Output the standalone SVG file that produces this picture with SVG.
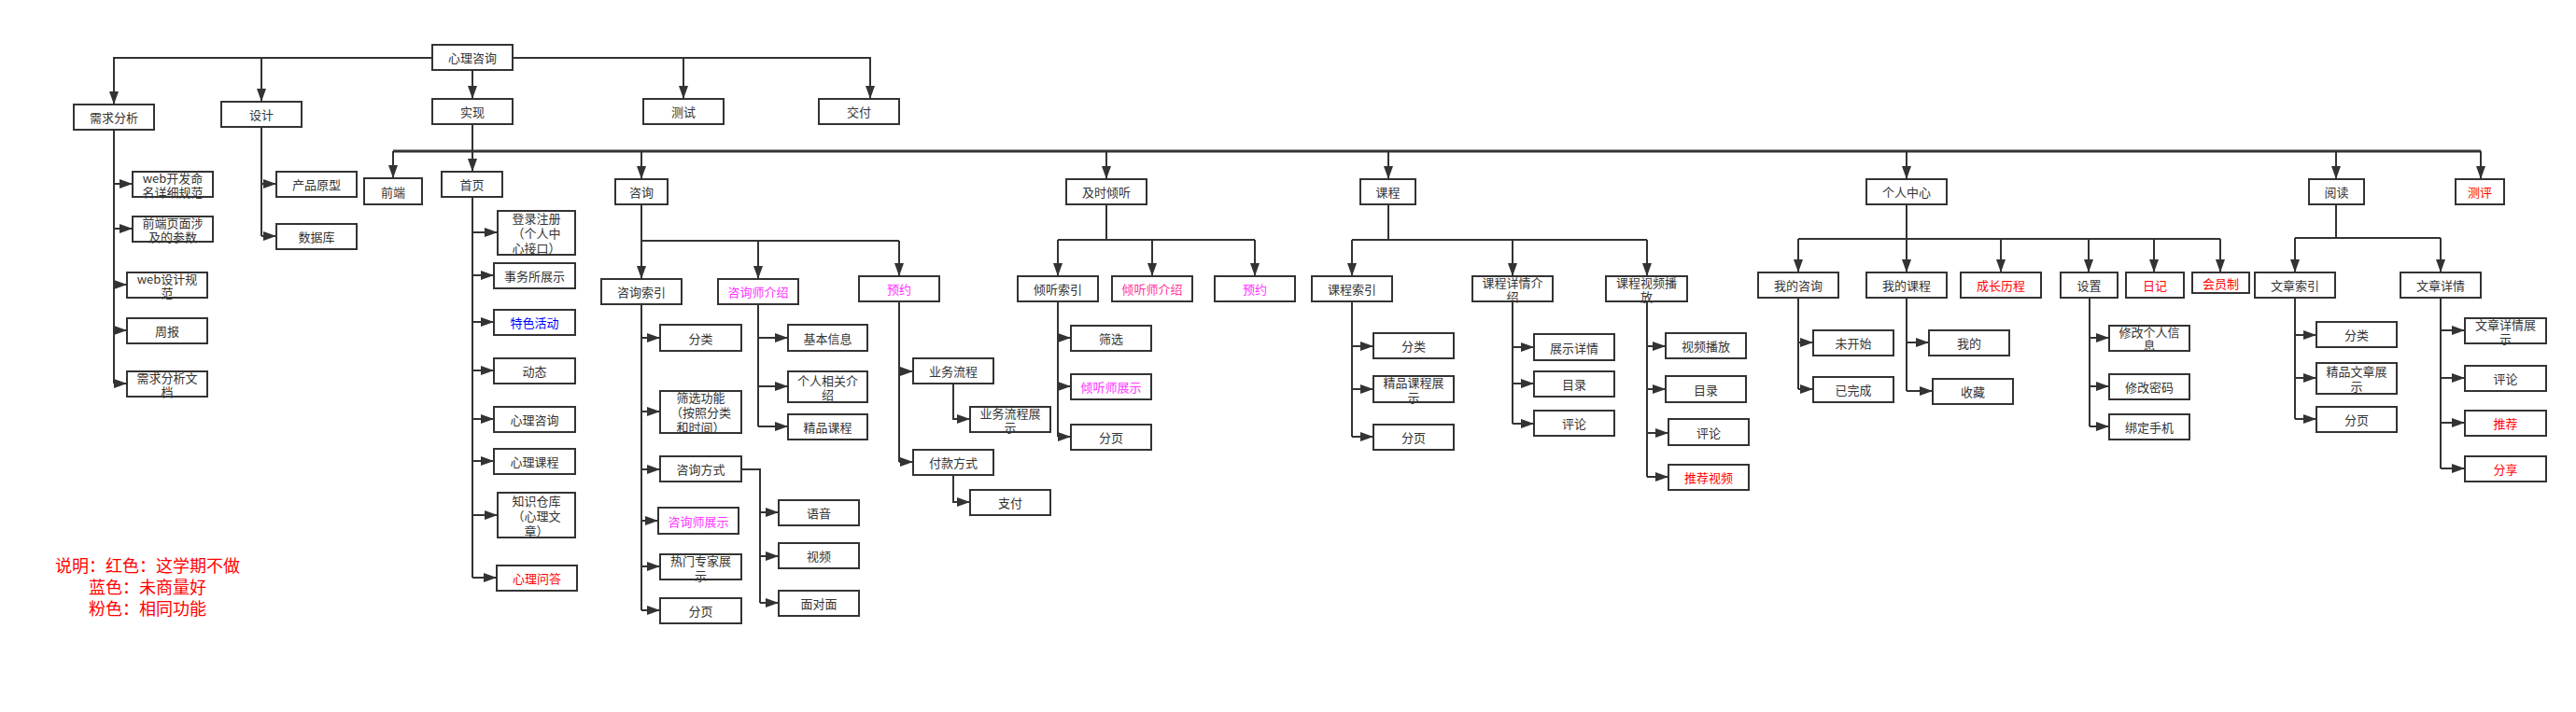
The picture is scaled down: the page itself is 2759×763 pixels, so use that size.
<svg xmlns="http://www.w3.org/2000/svg" width="2759" height="763" viewBox="0 0 2759 763">
<style>
rect{fill:#fff;stroke:#333;stroke-width:2}
text{font-family:"Noto Sans CJK SC","Liberation Sans",sans-serif;font-size:13px;fill:#333;text-anchor:middle;dominant-baseline:central}
.r{fill:#ff0000}.b{fill:#0000ff}.m{fill:#ff33ff}.p{fill:#ff3399}
#connectors path{fill:none;stroke:#333;stroke-width:2}
#connectors path.a{marker-end:url(#ah)}
#connectors path.bus{stroke-width:3}
.legend{font-size:18px;fill:#ff0000}
</style>
<defs>
<marker id="ah" markerUnits="userSpaceOnUse" markerWidth="14" markerHeight="10" refX="14" refY="5" orient="auto"><path d="M0,0 L14,5 L0,10 z" fill="#333"/></marker>
</defs>
<rect x="0" y="0" width="2759" height="763" style="fill:#fff;stroke:none"/>
<g id="connectors">
<path class="a" d="M463,62 H122 V112"/>
<path class="a" d="M280,62 V109"/>
<path class="a" d="M506,75 V106"/>
<path class="a" d="M549,62 H932 V106"/>
<path class="a" d="M732,62 V106"/>
<path d="M122,139 V411"/>
<path class="a" d="M122,197 H142"/><path class="a" d="M122,245 H142"/><path class="a" d="M122,305 H136"/><path class="a" d="M122,354 H136"/><path class="a" d="M122,411 H136"/>
<path d="M280,136 V253"/>
<path class="a" d="M280,197 H296"/><path class="a" d="M280,253 H296"/>
<path d="M506,133 V162"/>
<path class="bus" d="M421,162 H2657"/>
<path class="a" d="M421,162 V191"/><path class="a" d="M506,162 V184"/><path class="a" d="M687,162 V192"/><path class="a" d="M1185,162 V192"/><path class="a" d="M1487,162 V192"/><path class="a" d="M2042,162 V192"/><path class="a" d="M2502,162 V192"/><path class="a" d="M2657,162 V192"/>
<path d="M506,211 V619"/>
<path class="a" d="M506,249 H533"/><path class="a" d="M506,295 H529"/><path class="a" d="M506,345 H529"/><path class="a" d="M506,397 H529"/><path class="a" d="M506,449 H529"/><path class="a" d="M506,494 H529"/><path class="a" d="M506,552 H533"/><path class="a" d="M506,619 H532"/>
<path d="M687,219 V258 M687,258 H963"/>
<path class="a" d="M687,258 V299"/><path class="a" d="M812,258 V299"/><path class="a" d="M963,258 V296"/>
<path d="M687,326 V654"/>
<path class="a" d="M687,362 H707"/><path class="a" d="M687,441 H707"/><path class="a" d="M687,503 H707"/><path class="a" d="M687,558 H705"/><path class="a" d="M687,607 H707"/><path class="a" d="M687,654 H707"/>
<path d="M812,326 V457"/>
<path class="a" d="M812,362 H844"/><path class="a" d="M812,414 H844"/><path class="a" d="M812,457 H844"/>
<path d="M794,503 H814 V646"/>
<path class="a" d="M814,549 H834"/><path class="a" d="M814,596 H834"/><path class="a" d="M814,646 H834"/>
<path d="M963,323 V495"/>
<path class="a" d="M963,398 H978"/><path class="a" d="M963,495 H978"/>
<path class="a" d="M1021,411 V449 H1039"/>
<path class="a" d="M1021,509 V538 H1039"/>
<path d="M1185,219 V257 M1133,257 H1344"/>
<path class="a" d="M1133,257 V296"/><path class="a" d="M1234,257 V296"/><path class="a" d="M1344,257 V296"/>
<path d="M1133,323 V468"/>
<path class="a" d="M1133,362 H1147"/><path class="a" d="M1133,414 H1147"/><path class="a" d="M1133,468 H1147"/>
<path d="M1487,219 V257 M1448,257 H1764"/>
<path class="a" d="M1448,257 V296"/><path class="a" d="M1620,257 V296"/><path class="a" d="M1764,257 V296"/>
<path d="M1448,323 V468"/>
<path class="a" d="M1448,371 H1471"/><path class="a" d="M1448,417 H1471"/><path class="a" d="M1448,468 H1471"/>
<path d="M1620,323 V454"/>
<path class="a" d="M1620,372 H1643"/><path class="a" d="M1620,411 H1643"/><path class="a" d="M1620,454 H1643"/>
<path d="M1764,323 V511"/>
<path class="a" d="M1764,371 H1784"/><path class="a" d="M1764,417 H1784"/><path class="a" d="M1764,464 H1787"/><path class="a" d="M1764,511 H1787"/>
<path d="M2042,219 V256 M1926,256 H2378"/>
<path class="a" d="M1926,256 V292"/><path class="a" d="M2042,256 V292"/><path class="a" d="M2143,256 V292"/><path class="a" d="M2237,256 V292"/><path class="a" d="M2307,256 V292"/><path class="a" d="M2378,256 V292"/>
<path d="M1926,319 V417"/>
<path class="a" d="M1926,367 H1942"/><path class="a" d="M1926,417 H1942"/>
<path d="M2042,319 V419"/>
<path class="a" d="M2042,367 H2066"/><path class="a" d="M2042,419 H2070"/>
<path d="M2238,319 V457"/>
<path class="a" d="M2238,362 H2259"/><path class="a" d="M2238,414 H2259"/><path class="a" d="M2238,457 H2259"/>
<path d="M2502,219 V255 M2458,255 H2614"/>
<path class="a" d="M2458,255 V292"/><path class="a" d="M2614,255 V292"/>
<path d="M2458,319 V449"/>
<path class="a" d="M2458,359 H2481"/><path class="a" d="M2458,405 H2481"/><path class="a" d="M2458,449 H2481"/>
<path d="M2614,319 V502"/>
<path class="a" d="M2614,354 H2640"/><path class="a" d="M2614,405 H2640"/><path class="a" d="M2614,453 H2640"/><path class="a" d="M2614,502 H2640"/>
</g>
<g id="n-root"><rect x="463" y="48" width="86" height="27"/><text x="506" y="61.5">心理咨询</text></g>
<g id="n-xqfx"><rect x="79" y="112" width="86" height="27"/><text x="122" y="125.5">需求分析</text></g>
<g id="n-sj"><rect x="237" y="109" width="86" height="27"/><text x="280" y="122.5">设计</text></g>
<g id="n-sx"><rect x="463" y="106" width="86" height="27"/><text x="506" y="119.5">实现</text></g>
<g id="n-cs"><rect x="689" y="106" width="86" height="27"/><text x="732" y="119.5">测试</text></g>
<g id="n-jf"><rect x="877" y="106" width="86" height="27"/><text x="920" y="119.5">交付</text></g>
<g id="n-web1"><rect x="142" y="184" width="86" height="27"/><text x="185"><tspan x="185" y="190">web开发命</tspan><tspan x="185" y="205">名详细规范</tspan></text></g>
<g id="n-qdym"><rect x="142" y="232" width="86" height="27"/><text x="185"><tspan x="185" y="238">前端页面涉</tspan><tspan x="185" y="253">及的参数</tspan></text></g>
<g id="n-web2"><rect x="136" y="292" width="86" height="27"/><text x="179"><tspan x="179" y="298">web设计规</tspan><tspan x="179" y="313">范</tspan></text></g>
<g id="n-zb"><rect x="136" y="341" width="86" height="27"/><text x="179" y="354.5">周报</text></g>
<g id="n-xqwd"><rect x="136" y="398" width="86" height="27"/><text x="179"><tspan x="179" y="404">需求分析文</tspan><tspan x="179" y="419">档</tspan></text></g>
<g id="n-cpyx"><rect x="296" y="184" width="86" height="27"/><text x="339" y="197.5">产品原型</text></g>
<g id="n-sjk"><rect x="296" y="240" width="86" height="27"/><text x="339" y="253.5">数据库</text></g>
<g id="n-qd"><rect x="390" y="191" width="62" height="28"/><text x="421" y="205">前端</text></g>
<g id="n-sy"><rect x="473" y="184" width="65" height="27"/><text x="505.5" y="197.5">首页</text></g>
<g id="n-dlzc"><rect x="533" y="226" width="83" height="47"/><text x="574.5"><tspan x="574.5" y="233">登录注册</tspan><tspan x="574.5" y="249">（个人中</tspan><tspan x="574.5" y="265">心接口）</tspan></text></g>
<g id="n-swszs"><rect x="529" y="282" width="87" height="27"/><text x="572.5" y="295.5">事务所展示</text></g>
<g id="n-tshd"><rect x="529" y="332" width="87" height="27"/><text class="b" x="572.5" y="345.5">特色活动</text></g>
<g id="n-dt"><rect x="529" y="384" width="87" height="27"/><text x="572.5" y="397.5">动态</text></g>
<g id="n-xlzx"><rect x="529" y="436" width="87" height="27"/><text x="572.5" y="449.5">心理咨询</text></g>
<g id="n-xlkc"><rect x="529" y="481" width="87" height="27"/><text x="572.5" y="494.5">心理课程</text></g>
<g id="n-zsck"><rect x="533" y="528" width="83" height="48"/><text x="574.5"><tspan x="574.5" y="536">知识仓库</tspan><tspan x="574.5" y="552">（心理文</tspan><tspan x="574.5" y="568">章）</tspan></text></g>
<g id="n-xlwd"><rect x="532" y="606" width="86" height="27"/><text class="r" x="575" y="619.5">心理问答</text></g>
<g id="n-zx"><rect x="659" y="192" width="56" height="27"/><text x="687" y="205.5">咨询</text></g>
<g id="n-zxsy"><rect x="644" y="299" width="86" height="27"/><text x="687" y="312.5">咨询索引</text></g>
<g id="n-zxsjs"><rect x="769" y="299" width="86" height="27"/><text class="m" x="812" y="312.5">咨询师介绍</text></g>
<g id="n-yy1"><rect x="920" y="296" width="86" height="27"/><text class="m" x="963" y="309.5">预约</text></g>
<g id="n-fl1"><rect x="707" y="348" width="87" height="28"/><text x="750.5" y="362">分类</text></g>
<g id="n-sxgn"><rect x="707" y="419" width="87" height="45"/><text x="750.5"><tspan x="750.5" y="425">筛选功能</tspan><tspan x="750.5" y="441">（按照分类</tspan><tspan x="750.5" y="457">和时间）</tspan></text></g>
<g id="n-zxfs"><rect x="707" y="489" width="87" height="27"/><text x="750.5" y="502.5">咨询方式</text></g>
<g id="n-zxszs"><rect x="705" y="544" width="86" height="28"/><text class="m" x="748" y="558">咨询师展示</text></g>
<g id="n-rmzj"><rect x="707" y="594" width="87" height="27"/><text x="750.5"><tspan x="750.5" y="600">热门专家展</tspan><tspan x="750.5" y="616">示</tspan></text></g>
<g id="n-fy1"><rect x="707" y="641" width="87" height="27"/><text x="750.5" y="654.5">分页</text></g>
<g id="n-jbxx"><rect x="844" y="348" width="85" height="28"/><text x="886.5" y="362">基本信息</text></g>
<g id="n-grxg"><rect x="844" y="398" width="85" height="33"/><text x="886.5"><tspan x="886.5" y="407">个人相关介</tspan><tspan x="886.5" y="422">绍</tspan></text></g>
<g id="n-jpkc"><rect x="844" y="444" width="85" height="27"/><text x="886.5" y="457.5">精品课程</text></g>
<g id="n-yy"><rect x="834" y="536" width="86" height="27"/><text x="877" y="549.5">语音</text></g>
<g id="n-sp"><rect x="834" y="582" width="86" height="27"/><text x="877" y="595.5">视频</text></g>
<g id="n-mdm"><rect x="834" y="633" width="86" height="27"/><text x="877" y="646.5">面对面</text></g>
<g id="n-ywlc"><rect x="978" y="384" width="86" height="27"/><text x="1021" y="397.5">业务流程</text></g>
<g id="n-ywlczs"><rect x="1039" y="436" width="86" height="27"/><text x="1082"><tspan x="1082" y="442">业务流程展</tspan><tspan x="1082" y="457">示</tspan></text></g>
<g id="n-fkfs"><rect x="978" y="482" width="86" height="27"/><text x="1021" y="495.5">付款方式</text></g>
<g id="n-zf"><rect x="1039" y="525" width="86" height="27"/><text x="1082" y="538.5">支付</text></g>
<g id="n-jsqt"><rect x="1142" y="192" width="86" height="27"/><text x="1185" y="205.5">及时倾听</text></g>
<g id="n-qtsy"><rect x="1090" y="296" width="86" height="27"/><text x="1133" y="309.5">倾听索引</text></g>
<g id="n-qtsjs"><rect x="1191" y="296" width="86" height="27"/><text class="p" x="1234" y="309.5">倾听师介绍</text></g>
<g id="n-yy2"><rect x="1301" y="296" width="86" height="27"/><text class="m" x="1344" y="309.5">预约</text></g>
<g id="n-sx2"><rect x="1147" y="349" width="86" height="27"/><text x="1190" y="362.5">筛选</text></g>
<g id="n-qtszs"><rect x="1147" y="401" width="86" height="27"/><text class="m" x="1190" y="414.5">倾听师展示</text></g>
<g id="n-fy2"><rect x="1147" y="455" width="86" height="27"/><text x="1190" y="468.5">分页</text></g>
<g id="n-kc"><rect x="1457" y="192" width="59" height="27"/><text x="1486.5" y="205.5">课程</text></g>
<g id="n-kcsy"><rect x="1405" y="296" width="86" height="27"/><text x="1448" y="309.5">课程索引</text></g>
<g id="n-kcxq"><rect x="1577" y="296" width="86" height="27"/><text x="1620"><tspan x="1620" y="302">课程详情介</tspan><tspan x="1620" y="317">绍</tspan></text></g>
<g id="n-kcsp"><rect x="1720" y="296" width="87" height="27"/><text x="1763.5"><tspan x="1763.5" y="302">课程视频播</tspan><tspan x="1763.5" y="317">放</tspan></text></g>
<g id="n-fl2"><rect x="1471" y="357" width="86" height="27"/><text x="1514" y="370.5">分类</text></g>
<g id="n-jpkczs"><rect x="1471" y="403" width="86" height="28"/><text x="1514"><tspan x="1514" y="409">精品课程展</tspan><tspan x="1514" y="425">示</tspan></text></g>
<g id="n-fy3"><rect x="1471" y="455" width="86" height="27"/><text x="1514" y="468.5">分页</text></g>
<g id="n-zsxq"><rect x="1643" y="358" width="86" height="28"/><text x="1686" y="372">展示详情</text></g>
<g id="n-ml1"><rect x="1643" y="398" width="86" height="27"/><text x="1686" y="411.5">目录</text></g>
<g id="n-pl1"><rect x="1643" y="440" width="86" height="27"/><text x="1686" y="453.5">评论</text></g>
<g id="n-spbf"><rect x="1784" y="357" width="86" height="27"/><text x="1827" y="370.5">视频播放</text></g>
<g id="n-ml2"><rect x="1784" y="403" width="86" height="28"/><text x="1827" y="417">目录</text></g>
<g id="n-pl2"><rect x="1787" y="449" width="86" height="28"/><text x="1830" y="463">评论</text></g>
<g id="n-tjsp"><rect x="1787" y="498" width="86" height="27"/><text class="r" x="1830" y="511.5">推荐视频</text></g>
<g id="n-grzx"><rect x="1999" y="192" width="86" height="27"/><text x="2042" y="205.5">个人中心</text></g>
<g id="n-wdzx"><rect x="1883" y="292" width="86" height="27"/><text x="1926" y="305.5">我的咨询</text></g>
<g id="n-wdkc"><rect x="1999" y="292" width="86" height="27"/><text x="2042" y="305.5">我的课程</text></g>
<g id="n-czlc"><rect x="2100" y="292" width="86" height="27"/><text class="r" x="2143" y="305.5">成长历程</text></g>
<g id="n-sz"><rect x="2207" y="292" width="61" height="27"/><text x="2237.5" y="305.5">设置</text></g>
<g id="n-rj"><rect x="2277" y="292" width="62" height="27"/><text class="r" x="2308" y="305.5">日记</text></g>
<g id="n-hyz"><rect x="2348" y="292" width="61" height="22"/><text class="r" x="2378.5" y="303">会员制</text></g>
<g id="n-wks"><rect x="1942" y="354" width="86" height="27"/><text x="1985" y="367.5">未开始</text></g>
<g id="n-ywc"><rect x="1942" y="404" width="86" height="27"/><text x="1985" y="417.5">已完成</text></g>
<g id="n-wd"><rect x="2066" y="354" width="86" height="27"/><text x="2109" y="367.5">我的</text></g>
<g id="n-sc"><rect x="2070" y="406" width="86" height="27"/><text x="2113" y="419.5">收藏</text></g>
<g id="n-xggr"><rect x="2259" y="349" width="86" height="27"/><text x="2302"><tspan x="2302" y="355">修改个人信</tspan><tspan x="2302" y="369">息</tspan></text></g>
<g id="n-xgmm"><rect x="2259" y="401" width="86" height="27"/><text x="2302" y="414.5">修改密码</text></g>
<g id="n-bdsj"><rect x="2259" y="444" width="86" height="27"/><text x="2302" y="457.5">绑定手机</text></g>
<g id="n-yd"><rect x="2473" y="192" width="59" height="27"/><text x="2502.5" y="205.5">阅读</text></g>
<g id="n-cp"><rect x="2630" y="192" width="52" height="27"/><text class="r" x="2656" y="205.5">测评</text></g>
<g id="n-wzsy"><rect x="2415" y="292" width="86" height="27"/><text x="2458" y="305.5">文章索引</text></g>
<g id="n-wzxq"><rect x="2571" y="292" width="86" height="27"/><text x="2614" y="305.5">文章详情</text></g>
<g id="n-fl3"><rect x="2481" y="345" width="86" height="27"/><text x="2524" y="358.5">分类</text></g>
<g id="n-jpwz"><rect x="2481" y="389" width="86" height="33"/><text x="2524"><tspan x="2524" y="397">精品文章展</tspan><tspan x="2524" y="413">示</tspan></text></g>
<g id="n-fy4"><rect x="2481" y="436" width="86" height="27"/><text x="2524" y="449.5">分页</text></g>
<g id="n-wzxqzs"><rect x="2640" y="341" width="87" height="27"/><text x="2683.5"><tspan x="2683.5" y="347">文章详情展</tspan><tspan x="2683.5" y="362">示</tspan></text></g>
<g id="n-pl3"><rect x="2640" y="392" width="87" height="27"/><text x="2683.5" y="405.5">评论</text></g>
<g id="n-tj"><rect x="2640" y="440" width="87" height="27"/><text class="r" x="2683.5" y="453.5">推荐</text></g>
<g id="n-fx"><rect x="2640" y="489" width="87" height="27"/><text class="r" x="2683.5" y="502.5">分享</text></g>
<g id="legend">
<text class="legend" x="158" y="605">说明：红色：这学期不做</text>
<text class="legend" x="158" y="628">蓝色：未商量好</text>
<text class="legend" x="158" y="651">粉色：相同功能</text>
</g>
</svg>
